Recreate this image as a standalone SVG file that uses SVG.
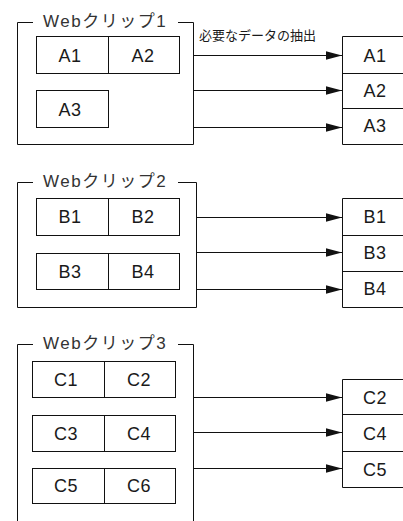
<svg xmlns="http://www.w3.org/2000/svg" width="403" height="521" viewBox="0 0 403 521">
<style>
.ln{fill:none;stroke:#111;stroke-width:1}
.cell{fill:#fff;stroke:#111;stroke-width:1}
.t{font-family:"Liberation Sans","Noto Sans CJK JP",sans-serif;fill:#1a1a1a}
.title{font-size:17px;letter-spacing:1.5px;fill:#333}
.c{font-size:18px;text-anchor:middle;letter-spacing:0.5px}
.lbl{font-size:13px}
.arr{fill:none;stroke:#111;stroke-width:1;marker-end:url(#ah)}
</style>
<defs>
<marker id="ah" markerUnits="userSpaceOnUse" viewBox="0 0 16 10" refX="16" refY="5" markerWidth="16" markerHeight="10" orient="auto">
<path d="M0,0.8 L16,5 L0,9.2 Z" fill="#111"/>
</marker>
</defs>
<rect width="403" height="521" fill="#fff"/>

<g id="clip1">
<path class="ln" d="M33,22.5 H17.5 V144.5 H193.5 V22.5 H178"/>
<text class="t title" x="43" y="27">Webクリップ1</text>
<rect class="cell" x="36.5" y="36.5" width="143" height="37"/>
<line class="ln" x1="108.5" y1="36.5" x2="108.5" y2="73.5"/>
<text class="t c" x="70" y="62">A1</text>
<text class="t c" x="143" y="62">A2</text>
<rect class="cell" x="36.5" y="90.5" width="72" height="37"/>
<text class="t c" x="70" y="116">A3</text>
</g>

<g id="out1">
<path class="ln" d="M404,36.5 H342.5 V144.5 H404 M342.5,73.5 H404 M342.5,108.5 H404"/>
<text class="t c" x="375" y="62">A1</text>
<text class="t c" x="375" y="97">A2</text>
<text class="t c" x="375" y="132">A3</text>
</g>

<g id="clip2">
<path class="ln" d="M33,182.5 H17.5 V307.5 H196.5 V182.5 H178"/>
<text class="t title" x="43" y="187">Webクリップ2</text>
<rect class="cell" x="36.5" y="198.5" width="143" height="37"/>
<line class="ln" x1="108.5" y1="198.5" x2="108.5" y2="235.5"/>
<text class="t c" x="70" y="223">B1</text>
<text class="t c" x="143" y="223">B2</text>
<rect class="cell" x="36.5" y="253.5" width="143" height="36"/>
<line class="ln" x1="108.5" y1="253.5" x2="108.5" y2="289.5"/>
<text class="t c" x="70" y="278">B3</text>
<text class="t c" x="143" y="278">B4</text>
</g>

<g id="out2">
<path class="ln" d="M404,198.5 H342.5 V307.5 H404 M342.5,235.5 H404 M342.5,271.5 H404"/>
<text class="t c" x="375" y="223">B1</text>
<text class="t c" x="375" y="259">B3</text>
<text class="t c" x="375" y="295">B4</text>
</g>

<g id="clip3">
<path class="ln" d="M33,344.5 H17.5 V530 M193.5,530 V344.5 H178"/>
<text class="t title" x="43" y="349">Webクリップ3</text>
<rect class="cell" x="32.5" y="361.5" width="143" height="36"/>
<line class="ln" x1="104.5" y1="361.5" x2="104.5" y2="397.5"/>
<text class="t c" x="66" y="386">C1</text>
<text class="t c" x="139" y="386">C2</text>
<rect class="cell" x="32.5" y="415.5" width="143" height="36"/>
<line class="ln" x1="104.5" y1="415.5" x2="104.5" y2="451.5"/>
<text class="t c" x="66" y="440">C3</text>
<text class="t c" x="139" y="440">C4</text>
<rect class="cell" x="32.5" y="468.5" width="143" height="35"/>
<line class="ln" x1="104.5" y1="468.5" x2="104.5" y2="503.5"/>
<text class="t c" x="66" y="492">C5</text>
<text class="t c" x="139" y="492">C6</text>
</g>

<g id="out3">
<path class="ln" d="M404,379.5 H342.5 V487.5 H404 M342.5,414.5 H404 M342.5,451.5 H404"/>
<text class="t c" x="375" y="404">C2</text>
<text class="t c" x="375" y="440">C4</text>
<text class="t c" x="375" y="476">C5</text>
</g>

<g id="connectors">
<line class="arr" x1="194" y1="55.5" x2="342" y2="55.5"/>
<line class="arr" x1="194" y1="90.5" x2="342" y2="90.5"/>
<line class="arr" x1="194" y1="127.5" x2="342" y2="127.5"/>
<text class="t lbl" x="199" y="40">必要なデータの抽出</text>
<line class="arr" x1="197" y1="217.5" x2="342" y2="217.5"/>
<line class="arr" x1="197" y1="252.5" x2="342" y2="252.5"/>
<line class="arr" x1="197" y1="289.5" x2="342" y2="289.5"/>
<line class="arr" x1="194" y1="397.5" x2="342" y2="397.5"/>
<line class="arr" x1="194" y1="432.5" x2="342" y2="432.5"/>
<line class="arr" x1="194" y1="468.5" x2="342" y2="468.5"/>
</g>
</svg>
